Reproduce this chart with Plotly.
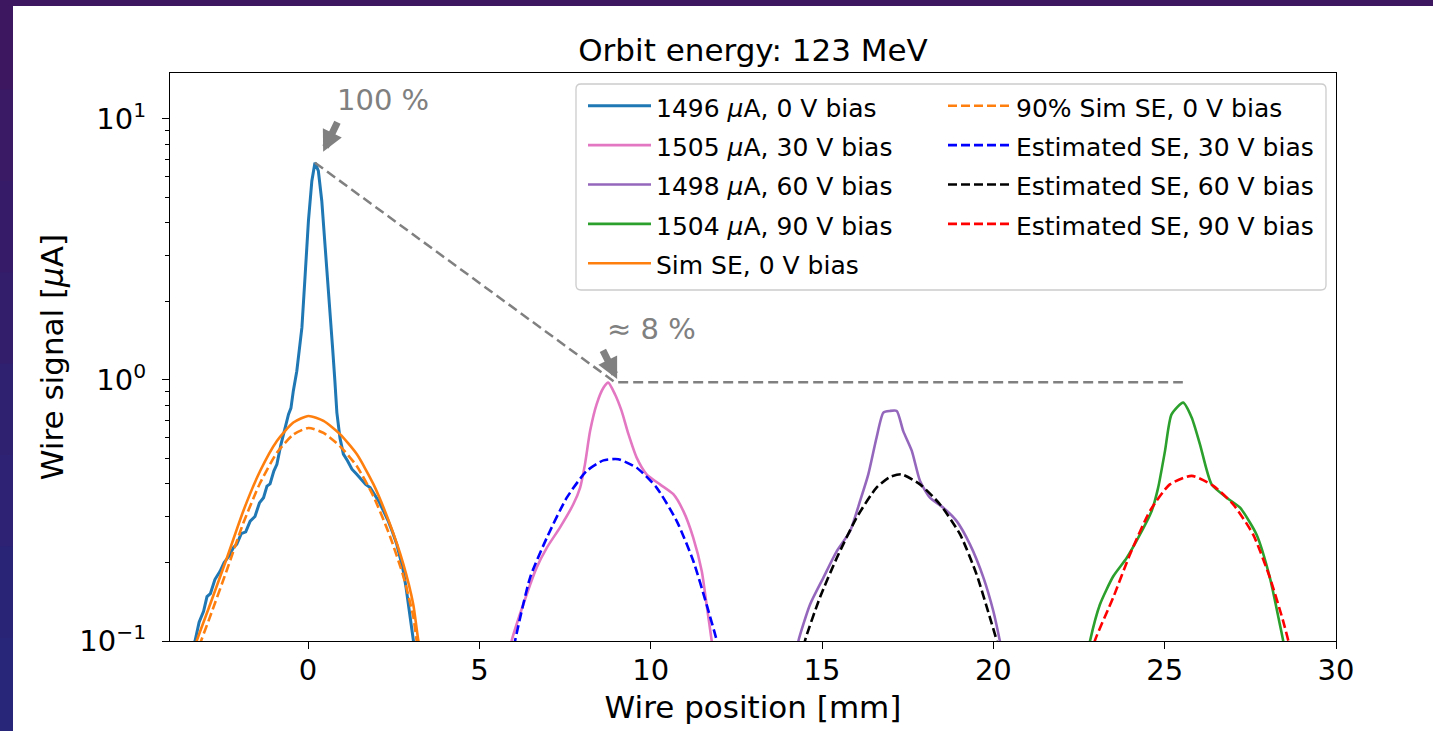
import plotly.graph_objects as go

W, H = 1433, 731
L, R, T, B = 170, 1336, 73, 641  # plot area in pixels


def fx(p):
    return (p - L) / (R - L)


def fy(p):
    return (B - p) / (B - T)


# ---------------- data ----------------
x_0v = [-3.45, -3.30, -3.18, -3.05, -2.95, -2.85, -2.72, -2.57, -2.45, -2.30, -2.18, -2.08,
        -1.95, -1.82, -1.69, -1.55, -1.42, -1.30, -1.20, -1.11, -1.00, -0.91, -0.80, -0.72,
        -0.62, -0.57, -0.50, -0.43, -0.33, -0.25, -0.18, -0.09, 0.01, 0.11, 0.20, 0.30,
        0.40, 0.50, 0.59, 0.72, 0.78, 0.84, 0.93, 1.03, 1.15, 1.28, 1.42, 1.55, 1.68, 1.81,
        1.95, 2.08, 2.20, 2.33, 2.46, 2.59, 2.70, 2.78, 2.86, 2.93, 3.00, 3.07, 3.15]
y_0v = [0.085, 0.100, 0.118, 0.130, 0.148, 0.152, 0.172, 0.185, 0.200, 0.212, 0.228, 0.235,
        0.258, 0.262, 0.288, 0.300, 0.338, 0.354, 0.392, 0.400, 0.448, 0.475, 0.560, 0.620,
        0.690, 0.740, 0.780, 0.910, 1.08, 1.30, 1.59, 2.47, 4.07, 5.79, 6.80, 6.32,
        4.85, 3.21, 2.13, 1.30, 1.00, 0.75, 0.60, 0.52, 0.490, 0.455, 0.435, 0.418, 0.398, 0.387,
        0.362, 0.340, 0.315, 0.290, 0.262, 0.234, 0.205, 0.185, 0.160, 0.138, 0.120, 0.103, 0.085]

x_sim = [-3.40, -3.25, -2.86, -2.37, -1.89, -1.40, -0.91, -0.43, 0.01, 0.45, 0.93, 1.42,
         1.91, 2.39, 2.78, 3.07, 3.22, 3.35]
y_sim = [0.085, 0.100, 0.138, 0.208, 0.315, 0.448, 0.584, 0.687, 0.728, 0.697, 0.620, 0.520,
         0.398, 0.280, 0.197, 0.138, 0.100, 0.085]
y_sim90 = [0.077, 0.090, 0.124, 0.187, 0.283, 0.403, 0.526, 0.618, 0.655, 0.627, 0.558, 0.468,
           0.358, 0.252, 0.177, 0.124, 0.090, 0.077]

x_30v = [5.85, 5.94, 6.28, 6.67, 6.97, 7.35, 7.74, 7.94, 8.08, 8.23, 8.42, 8.62, 8.76, 8.96,
         9.15, 9.35, 9.59, 9.88, 10.27, 10.66, 10.95, 11.24, 11.49, 11.63, 11.78, 11.85]
y_30v = [0.085, 0.100, 0.138, 0.191, 0.228, 0.272, 0.334, 0.387, 0.475, 0.637, 0.807, 0.934,
         0.977, 0.880, 0.761, 0.620, 0.504, 0.435, 0.398, 0.365, 0.315, 0.249, 0.185, 0.138,
         0.100, 0.085]
x_est30 = [5.95, 6.04, 6.48, 6.97, 7.55, 8.13, 8.62, 9.05, 9.59, 10.17, 10.76, 11.24, 11.63,
           11.93, 12.00]
y_est30 = [0.085, 0.100, 0.175, 0.249, 0.354, 0.448, 0.492, 0.497, 0.461, 0.387, 0.288, 0.203,
           0.138, 0.100, 0.090]

x_60v = [14.22, 14.31, 14.65, 15.04, 15.43, 15.82, 16.11, 16.35, 16.59, 16.79, 16.98, 17.18,
         17.37, 17.62, 17.86, 18.15, 18.54, 18.93, 19.32, 19.71, 20.00, 20.19, 20.27]
y_60v = [0.085, 0.100, 0.138, 0.175, 0.221, 0.264, 0.344, 0.435, 0.601, 0.750, 0.761, 0.761,
         0.637, 0.535, 0.410, 0.354, 0.324, 0.288, 0.234, 0.175, 0.130, 0.100, 0.088]
x_est60 = [14.40, 14.50, 14.94, 15.43, 16.01, 16.59, 16.98, 17.32, 17.86, 18.44, 19.03, 19.51,
           19.90, 20.10, 20.18]
y_est60 = [0.085, 0.100, 0.147, 0.208, 0.297, 0.387, 0.425, 0.435, 0.398, 0.334, 0.256, 0.180,
           0.123, 0.100, 0.090]

x_90v = [22.72, 22.82, 23.11, 23.50, 23.89, 24.28, 24.62, 24.81, 25.01, 25.20, 25.54, 25.79,
         26.03, 26.37, 26.81, 27.20, 27.68, 28.07, 28.36, 28.46, 28.52]
y_90v = [0.085, 0.100, 0.138, 0.177, 0.208, 0.256, 0.315, 0.387, 0.535, 0.738, 0.819, 0.717,
         0.567, 0.398, 0.354, 0.324, 0.256, 0.175, 0.116, 0.100, 0.090]
x_est90 = [22.88, 22.96, 23.50, 23.99, 24.57, 25.15, 25.79, 26.42, 27.00, 27.58, 28.07, 28.46,
           28.61, 28.68]
y_est90 = [0.088, 0.100, 0.147, 0.215, 0.315, 0.398, 0.429, 0.393, 0.334, 0.256, 0.175, 0.119,
           0.100, 0.090]

# guide line linking the peaks
x_guide = [0.20, 8.96, 25.53]
y_guide = [6.80, 0.98, 0.98]

y_tickvals = [0.1, 1, 10]
y_ticktext = ["10<sup>\u22121</sup>", "10<sup>0</sup>", "10<sup>1</sup>"]
y_minor = [0.2, 0.3, 0.4, 0.5, 0.6, 0.7, 0.8, 0.9, 2, 3, 4, 5, 6, 7, 8, 9]
x_tickvals = [0, 5, 10, 15, 20, 25, 30]

FONT = "DejaVu Sans"
LEG = 25


def lab(s):
    return '<span style="font-size:%dpx">%s</span>' % (LEG, s)


MU = "<i>\u03bc</i>"

fig = go.Figure()


def add(x, y, name, color, legend, dash=None, width=2.6, shape="spline"):
    fig.add_trace(go.Scatter(x=x, y=y, mode="lines", name=lab(name), legend=legend,
                             line=dict(color=color, width=width, dash=dash, shape=shape,
                                       smoothing=0.6 if shape == "spline" else None)))


DASH = "9px,4px"
add(x_0v, y_0v, "1496 %sA, 0 V bias" % MU, "#1f77b4", "legend", width=3, shape="linear")
add(x_30v, y_30v, "1505 %sA, 30 V bias" % MU, "#e377c2", "legend")
add(x_60v, y_60v, "1498 %sA, 60 V bias" % MU, "#9467bd", "legend")
add(x_90v, y_90v, "1504 %sA, 90 V bias" % MU, "#2ca02c", "legend")
add(x_sim, y_sim, "Sim SE, 0 V bias", "#ff7f0e", "legend")
add(x_sim, y_sim90, "90% Sim SE, 0 V bias", "#ff7f0e", "legend2", dash=DASH)
add(x_est30, y_est30, "Estimated SE, 30 V bias", "#0000ff", "legend2", dash=DASH)
add(x_est60, y_est60, "Estimated SE, 60 V bias", "#000000", "legend2", dash=DASH)
add(x_est90, y_est90, "Estimated SE, 90 V bias", "#ff0000", "legend2", dash=DASH)

fig.add_trace(go.Scatter(x=x_guide, y=y_guide, mode="lines", showlegend=False,
                         line=dict(color="#808080", width=2.5, dash="10px,5px")))

GRAY = "#808080"
annotations = [
    dict(x=0.44, y=0.874, xref="x", yref="y", text="", showarrow=True, ax=15, ay=-31,
         arrowcolor=GRAY, arrowwidth=7, arrowhead=2, arrowsize=0.6, standoff=0),
    dict(x=9.02, y=0.004, xref="x", yref="y", text="", showarrow=True, ax=-15, ay=-30,
         arrowcolor=GRAY, arrowwidth=7, arrowhead=2, arrowsize=0.6, standoff=0),
    dict(x=2.19, y=1.073, xref="x", yref="y", text="100 %", showarrow=False,
         font=dict(family=FONT, size=29, color=GRAY)),
    dict(x=10.01, y=0.195, xref="x", yref="y", text="\u2248 8 %", showarrow=False,
         font=dict(family=FONT, size=29, color=GRAY)),
]

# purple frame around the white slide area
shapes = [dict(type="rect", xref="paper", yref="paper", x0=fx(0), x1=fx(W), y0=fy(0), y1=fy(6),
               fillcolor="#3d1860", line=dict(width=0), layer="above")]
left_cols = ["#3d1860", "#3a1a64", "#361c68", "#331e6c", "#302070", "#2d2273", "#2a2476", "#282679"]
n = len(left_cols)
for i, c in enumerate(left_cols):
    shapes.append(dict(type="rect", xref="paper", yref="paper", x0=fx(0), x1=fx(13),
                       y0=fy(H * i / n - 2), y1=fy(H * (i + 1) / n + 2), fillcolor=c,
                       line=dict(width=0), layer="above"))

# legend frame (rounded), both legend columns sit inside it
bx0, bx1, by0, by1, rr = 576, 1326, 84, 290, 5
path = ("M {a},{b} L {c},{b} Q {d},{b} {d},{e} L {d},{f} Q {d},{g} {c},{g} "
        "L {a},{g} Q {h},{g} {h},{f} L {h},{e} Q {h},{b} {a},{b} Z").format(
    a=fx(bx0 + rr), b=fy(by0), c=fx(bx1 - rr), d=fx(bx1), e=fy(by0 + rr), f=fy(by1 - rr),
    g=fy(by1), h=fx(bx0))
shapes.append(dict(type="path", xref="paper", yref="paper", path=path,
                   fillcolor="rgba(255,255,255,0.85)", line=dict(color="#cccccc", width=1.3),
                   layer="above"))

leg_common = dict(orientation="v", xanchor="left", yanchor="top", itemwidth=63,
                  bgcolor="rgba(0,0,0,0)", borderwidth=0, font=dict(size=28, color="black"),
                  traceorder="normal")

fig.update_layout(
    width=W, height=H,
    margin=dict(l=L, r=W - R, t=T, b=H - B, autoexpand=False),
    paper_bgcolor="white", plot_bgcolor="white",
    font=dict(family=FONT, color="black"),
    title=dict(text="Orbit energy: 123 MeV", x=(L + R) / 2 / W, xanchor="center",
               y=1 - 50 / H, yanchor="middle", font=dict(size=31, family=FONT, color="black")),
    xaxis=dict(range=[-4.03, 30], tickvals=x_tickvals, ticks="outside", ticklen=7, tickwidth=1.3,
               tickcolor="black", showline=True, linecolor="black", linewidth=1.3, mirror=True,
               showgrid=False, zeroline=False, tickfont=dict(size=29), ticklabelstandoff=-4,
               title=dict(text="Wire position [mm]", font=dict(size=31), standoff=10)),
    yaxis=dict(type="log", range=[-1, 1.176], tickvals=y_tickvals, ticktext=y_ticktext,
               ticks="outside", ticklen=7, tickwidth=1.3, tickcolor="black", showline=True,
               linecolor="black", linewidth=1.3, mirror=True, showgrid=False, zeroline=False,
               tickfont=dict(size=29), ticklabelstandoff=10,
               minor=dict(tickvals=y_minor, ticks="outside", ticklen=4, tickwidth=1,
                          tickcolor="black", showgrid=False),
               title=dict(text="Wire signal [%sA]" % MU, font=dict(size=31), standoff=6)),
    legend=dict(x=fx(583), y=fy(81), **leg_common),
    legend2=dict(x=fx(943), y=fy(81), **leg_common),
    annotations=annotations,
    shapes=shapes,
)

fig.write_html("out.html", post_script="document.body.style.margin='0';",
               config={"displayModeBar": False})
